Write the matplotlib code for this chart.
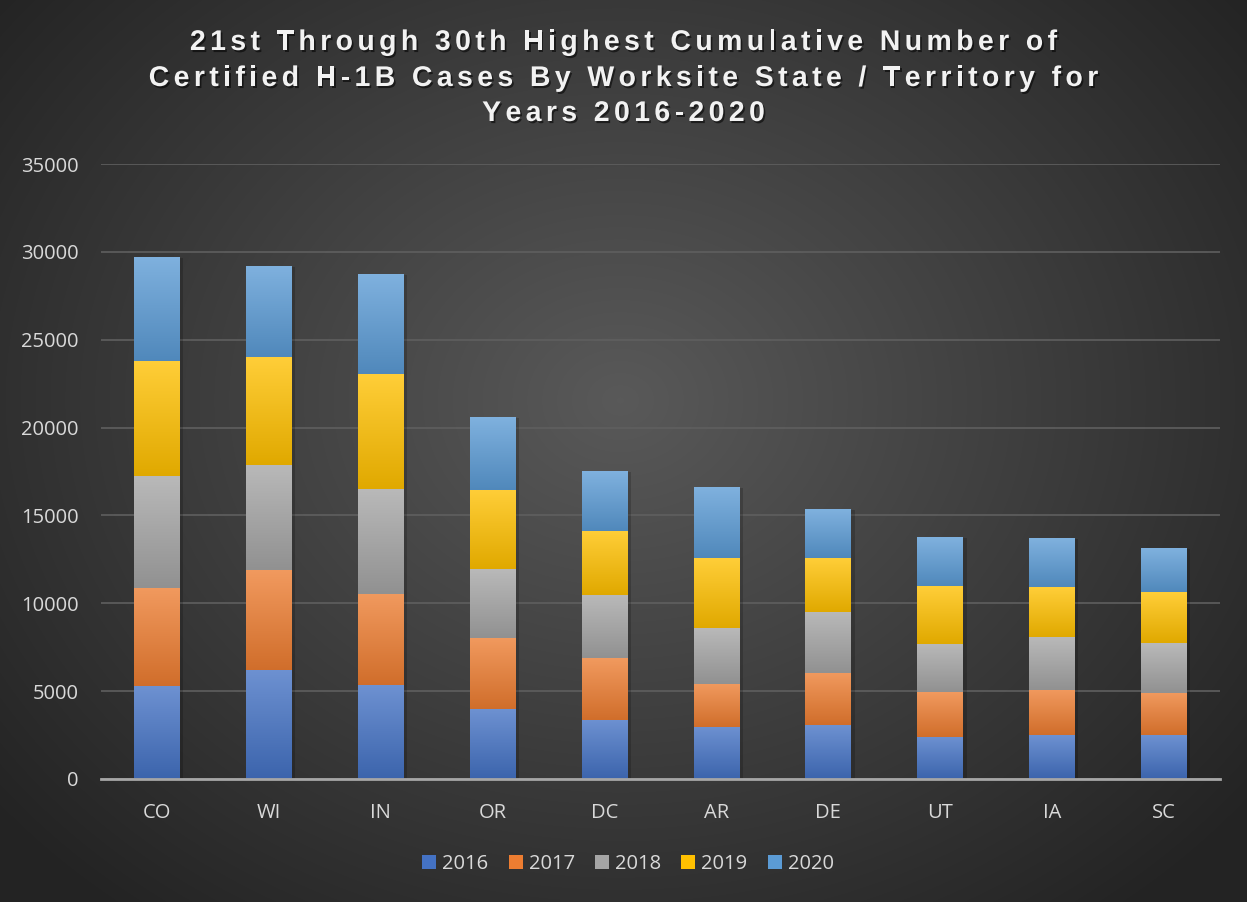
import numpy as np
import matplotlib
matplotlib.use("Agg")
import matplotlib.pyplot as plt
from matplotlib.colors import to_rgb
from matplotlib.patches import Rectangle
from matplotlib import font_manager, patheffects
from matplotlib.ft2font import FT2Font

states = ["CO", "WI", "IN", "OR", "DC", "AR", "DE", "UT", "IA", "SC"]
years = ["2016", "2017", "2018", "2019", "2020"]
y2016 = [5290, 6220, 5330, 3980, 3370, 2960, 3050, 2400, 2480, 2480]
y2017 = [5590, 5670, 5210, 4050, 3520, 2460, 2990, 2560, 2600, 2420]
y2018 = [6340, 5980, 5960, 3900, 3560, 3180, 3490, 2750, 3010, 2840]
y2019 = [6560, 6130, 6540, 4510, 3660, 3980, 3050, 3280, 2840, 2900]
y2020 = [5920, 5190, 5690, 4150, 3410, 4030, 2780, 2780, 2780, 2500]
series = [y2016, y2017, y2018, y2019, y2020]
colors = ["#4472C4", "#ED7D31", "#A5A5A5", "#FFC000", "#5B9BD5"]
title_lines = ["21st Through 30th Highest Cumulative Number of",
               "Certified H-1B Cases By Worksite State / Territory for",
               "Years 2016-2020"]

plt.rcParams["font.family"] = ["Open Sans", "DejaVu Sans"]

W, H = 1247, 902
DPI = 100
fig = plt.figure(figsize=(W / DPI, H / DPI), dpi=DPI)

# radial background
bg = fig.add_axes([0, 0, 1, 1])
yy, xx = np.mgrid[0:H, 0:W]
r = np.sqrt(((xx - 620) / 760.0) ** 2 + ((yy - 400) / 620.0) ** 2)
shade = np.clip(0.35 - 0.20 * r, 0.14, 0.36)
bg.imshow(np.dstack([shade] * 3), extent=[0, 1, 0, 1], aspect="auto", interpolation="bilinear")
bg.set_axis_off()

ax = fig.add_axes([101 / W, (H - 779) / H, (1220 - 101) / W, (779 - 164) / H])
ax.patch.set_alpha(0)

x = np.arange(len(states))
width = 0.41
bottom = np.zeros(len(states))
grad = np.linspace(0, 1, 64).reshape(-1, 1)
for vals, col, yr in zip(series, colors, years):
    vals = np.array(vals, dtype=float)
    bars = ax.bar(x, vals, width, bottom=bottom, color=col, label=yr, zorder=3, linewidth=0)
    base = np.array(to_rgb(col))
    light = base + (1 - base) * 0.22
    dark = base * 0.88
    cimg = (dark[None, None, :] * (1 - grad[..., None]) + light[None, None, :] * grad[..., None])
    for b in bars:
        bx, by = b.get_x(), b.get_y()
        bw, bh = b.get_width(), b.get_height()
        # soft drop shadow
        ax.add_patch(Rectangle((bx + 0.03, by - 60), bw, bh, color="black", alpha=0.18,
                               zorder=2, linewidth=0))
        im = ax.imshow(cimg, extent=[bx, bx + bw, by, by + bh], origin="lower",
                       aspect="auto", zorder=3.5, interpolation="bilinear")
        im.set_clip_path(b)
    bottom += vals

ax.set_xlim(-0.5, len(states) - 0.5)
ax.set_ylim(0, 35000)
ax.set_yticks(np.arange(0, 35001, 5000))
ax.set_xticks(x)
ax.set_xticklabels(states)
ax.grid(axis="y", color="#5f5f5f", linewidth=1.2, zorder=0)
ax.set_axisbelow(True)
for s in ["top", "right", "left"]:
    ax.spines[s].set_visible(False)
ax.spines["bottom"].set_color("#a6a6a6")
ax.spines["bottom"].set_linewidth(2)
ax.spines["bottom"].set_zorder(5)
ax.tick_params(axis="both", length=0, colors="#d9d9d9", labelsize=14.5)
ax.tick_params(axis="y", pad=16)
ax.tick_params(axis="x", pad=17.5)

# letter-spaced bold title, laid out glyph by glyph
title_fp = font_manager.FontProperties(family="Liberation Sans", weight="bold", size=20.5)
ft = FT2Font(font_manager.findfont(title_fp))
ft.set_size(title_fp.get_size_in_points(), DPI)
tracking = 4.35  # extra pixels between letters
shadow = [patheffects.SimplePatchShadow(offset=(1.2, -1.5), shadow_rgbFace="black", alpha=0.55),
          patheffects.Normal()]
line_centers = [40, 76, 111]
for line, yc in zip(title_lines, line_centers):
    adv = []
    for ch in line:
        g = ft.load_char(ord(ch))
        adv.append(g.linearHoriAdvance / 65536.0)
    total = sum(adv) + tracking * (len(line) - 1)
    xpos = W / 2 - total / 2
    for ch, a in zip(line, adv):
        if ch != " ":
            fig.text(xpos / W, 1 - yc / H, ch, ha="left", va="center_baseline",
                     color="#f2f2f2", fontproperties=title_fp, path_effects=shadow)
        xpos += a + tracking

leg = fig.legend(*ax.get_legend_handles_labels(), loc="center", bbox_to_anchor=(628 / W, 1 - 864 / H),
                 ncol=5, frameon=False, fontsize=14.5, handlelength=0.7, handleheight=0.7,
                 handletextpad=0.3, columnspacing=1.0)
for t in leg.get_texts():
    t.set_color("#d9d9d9")

fig.savefig("out.png", dpi=DPI)
